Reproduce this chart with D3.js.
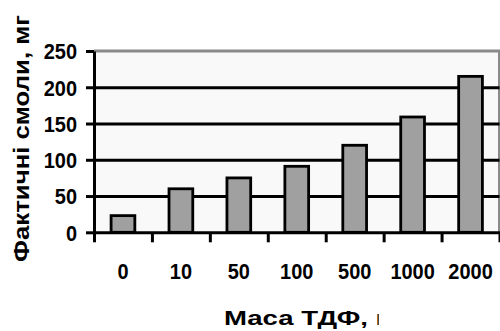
<!DOCTYPE html>
<html>
<head>
<meta charset="utf-8">
<script src="https://cdn.jsdelivr.net/npm/d3@7"></script>
<style>
  html, body { margin: 0; padding: 0; background: #fff; }
  svg { display: block; }
  text { font-family: "Liberation Sans", Arial, sans-serif; font-weight: bold; fill: #000; }
</style>
</head>
<body>
<svg id="chart" width="500" height="331"></svg>
<script>
// Category labels (mass of additive) and measured gum content
const categories = ["0", "10", "50", "100", "500", "1000", "2000"];
const gumValues = [23, 60, 75, 91, 120, 159, 215];
const yTickValues = [0, 50, 100, 150, 200, 250];
const yTitle = "Фактичні смоли, мг";
const xTitle = "Маса ТДФ, г";

const svg = d3.select("#chart");
const plot = { left: 94, right: 499.5, top: 51, bottom: 232.3 };
const digitWidth = 11.1;

const x = d3.scaleBand()
  .domain(categories)
  .range([plot.left, plot.right])
  .padding(0);

const y = d3.scaleLinear()
  .domain([0, 250])
  .range([plot.bottom, plot.top]);

// Plot area background
svg.append("rect")
  .attr("x", plot.left).attr("y", plot.top)
  .attr("width", plot.right - plot.left)
  .attr("height", plot.bottom - plot.top)
  .attr("fill", "#f9f9f9");

// Grey frame on the top and right edges
svg.append("path")
  .attr("d", `M${plot.left},${plot.top}H${plot.right}V${plot.bottom}`)
  .attr("fill", "none")
  .attr("stroke", "#8a8a8a")
  .attr("stroke-width", 3);

// Horizontal gridlines
const grid = svg.append("g")
  .attr("transform", `translate(${plot.left},0)`)
  .call(d3.axisLeft(y)
    .tickValues(yTickValues.filter(v => v > 0 && v < 250))
    .tickSize(-(plot.right - plot.left))
    .tickFormat(""));
grid.select(".domain").remove();
grid.selectAll(".tick line").attr("stroke", "#000").attr("stroke-width", 3);

// Bars
const barFrac = 0.41;
svg.append("g")
  .selectAll("rect")
  .data(categories.map((c, i) => ({ c, v: gumValues[i] })))
  .join("rect")
  .attr("x", d => x(d.c) + x.bandwidth() * (1 - barFrac) / 2)
  .attr("width", x.bandwidth() * barFrac)
  .attr("y", d => y(d.v))
  .attr("height", d => y(0) - y(d.v))
  .attr("fill", "#a0a0a0")
  .attr("stroke", "#000")
  .attr("stroke-width", 2.8);

// Y axis with labels
const yAxis = svg.append("g")
  .attr("transform", `translate(${plot.left},0)`)
  .call(d3.axisLeft(y).tickValues(yTickValues).tickSize(8).tickPadding(9).tickSizeOuter(0));
yAxis.select(".domain").attr("stroke", "#000").attr("stroke-width", 3);
yAxis.selectAll(".tick line").attr("stroke", "#000").attr("stroke-width", 3);
yAxis.selectAll(".tick text")
  .style("font-size", "22px")
  .attr("dy", "0.36em")
  .attr("textLength", d => String(d).length * digitWidth)
  .attr("lengthAdjust", "spacingAndGlyphs");

// X axis: line, tick marks between categories, labels centred in each band
const boundaries = d3.range(categories.length + 1);
const bx = d3.scaleLinear().domain([0, categories.length]).range([plot.left, plot.right]);
const xAxis = svg.append("g")
  .attr("transform", `translate(0,${plot.bottom})`)
  .call(d3.axisBottom(bx).tickValues(boundaries).tickSize(10).tickFormat("").tickSizeOuter(0));
xAxis.select(".domain").attr("stroke", "#000").attr("stroke-width", 3);
xAxis.selectAll(".tick line").attr("stroke", "#000").attr("stroke-width", 3);

const xLabels = svg.append("g")
  .attr("transform", `translate(0,${plot.bottom})`)
  .call(d3.axisBottom(x).tickSize(0).tickPadding(31));
xLabels.select(".domain").remove();
xLabels.selectAll(".tick text")
  .style("font-size", "22px")
  .attr("textLength", d => d.length * digitWidth)
  .attr("lengthAdjust", "spacingAndGlyphs");

// Y axis title
svg.append("text")
  .attr("transform", "translate(28.5,138.5) rotate(-90)")
  .attr("text-anchor", "middle")
  .attr("textLength", 247)
  .attr("lengthAdjust", "spacingAndGlyphs")
  .style("font-size", "22px")
  .text(yTitle);

// X axis title; its last letter is cut off by the chart area's edge,
// leaving only the stem of the final glyph visible
const clipRect = svg.append("clipPath").attr("id", "xtitle-clip")
  .append("rect").attr("x", 0).attr("y", 0).attr("width", 500).attr("height", 331);
const xTitleText = svg.append("text")
  .attr("x", 224).attr("y", 325)
  .attr("clip-path", "url(#xtitle-clip)")
  .attr("textLength", 163)
  .attr("lengthAdjust", "spacingAndGlyphs")
  .style("font-size", "21px")
  .text(xTitle);
const lastStart = xTitleText.node().getStartPositionOfChar(xTitle.length - 1).x;
clipRect.attr("width", lastStart + 3.2);
</script>
</body>
</html>
